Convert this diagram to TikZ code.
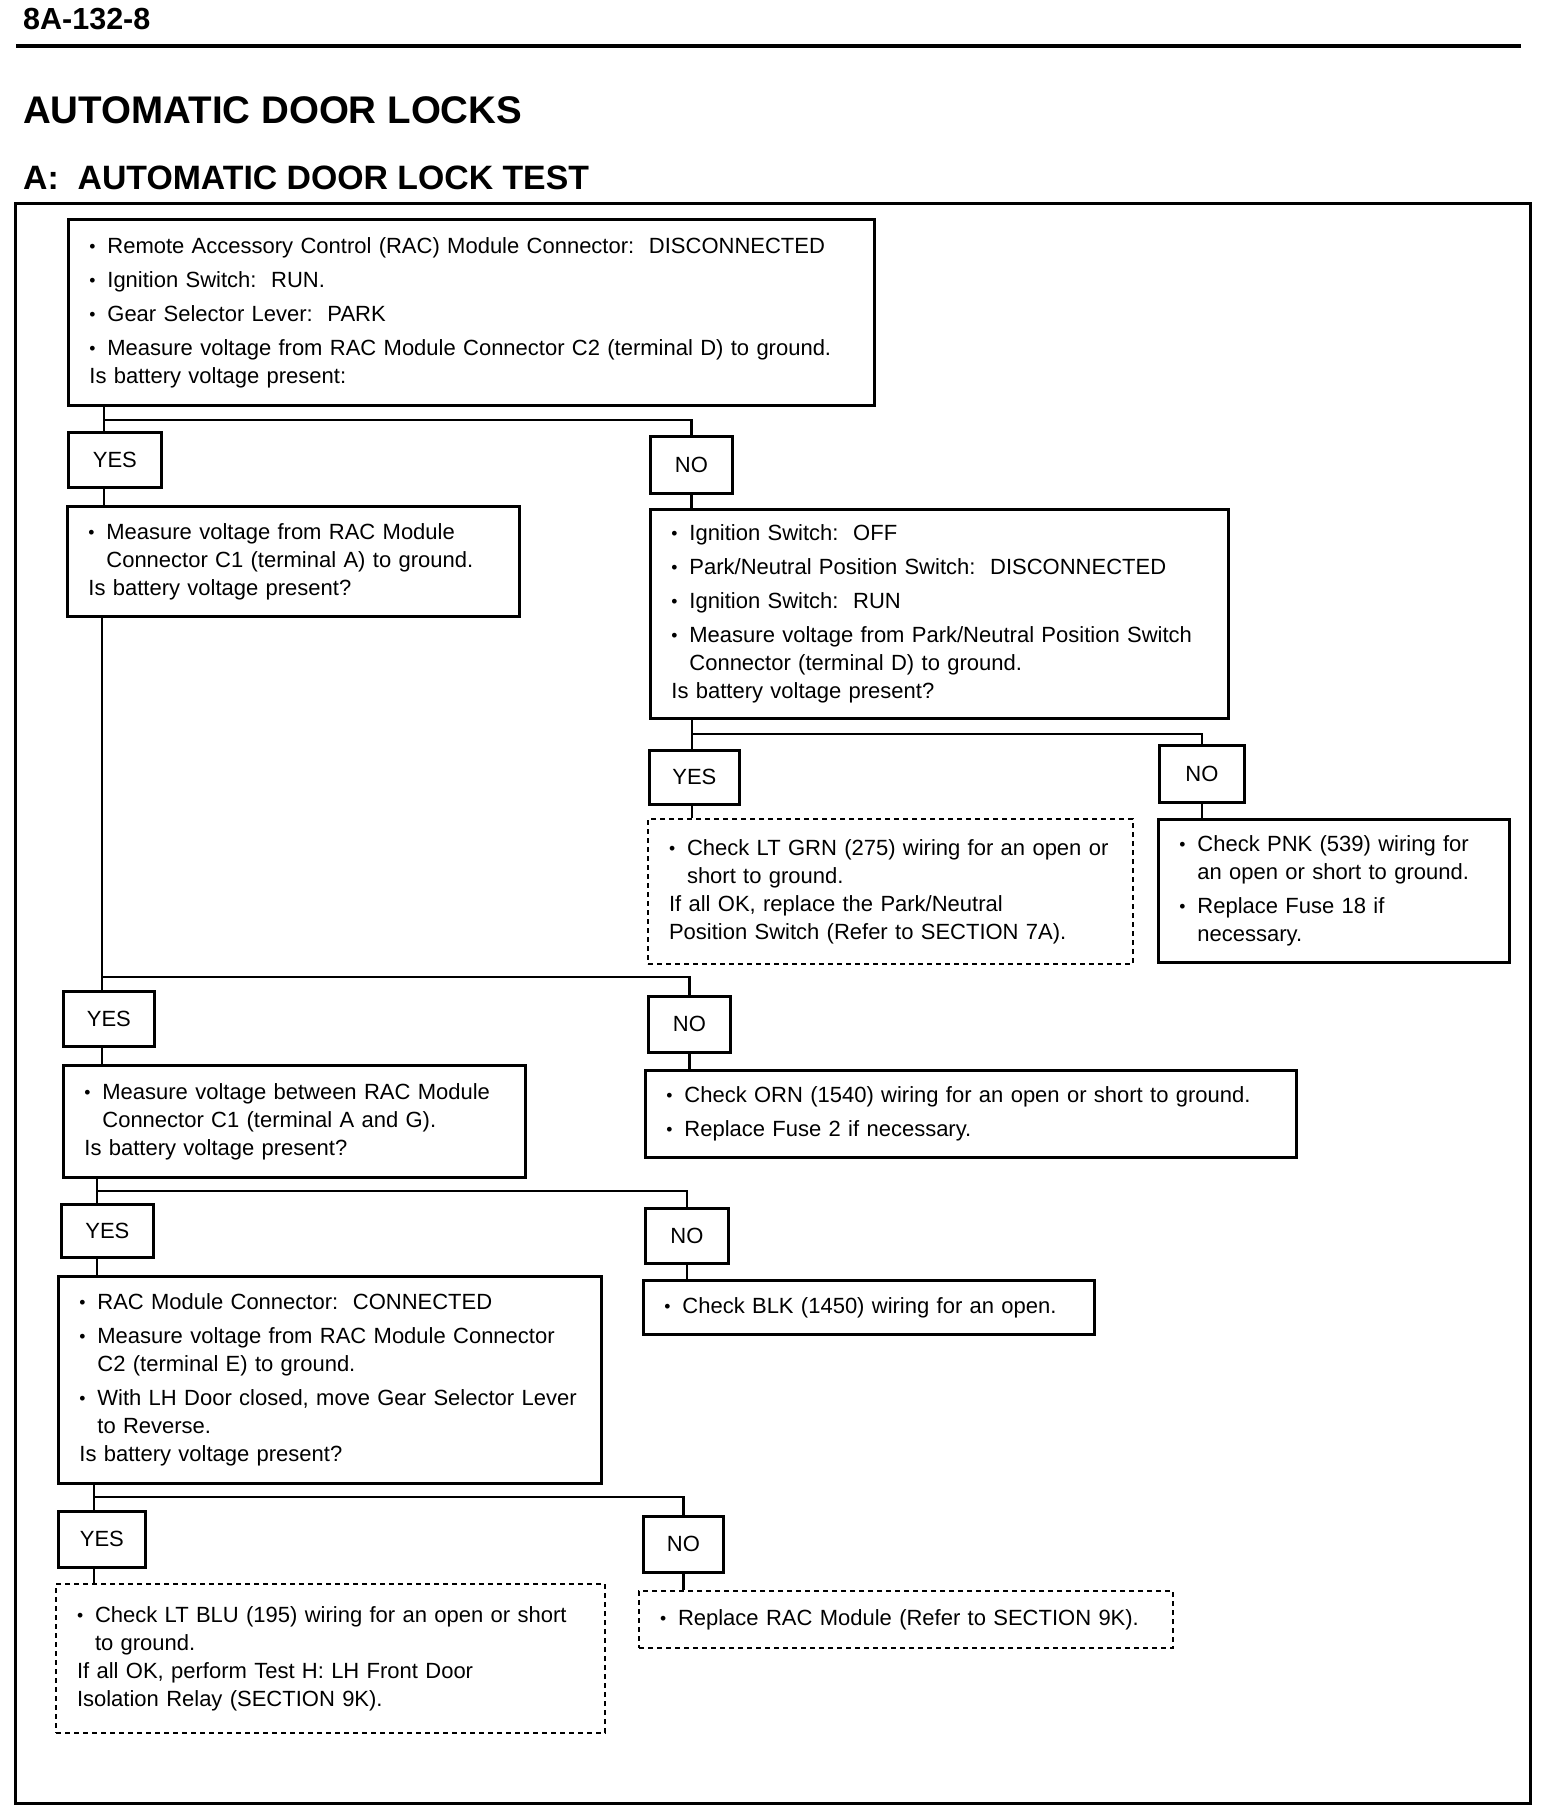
\documentclass[tikz,border=0pt]{standalone}
\usepackage{fontspec}
\setmainfont{Liberation Sans}
\newcommand\bodyfont{\fontsize{22}{28}\selectfont}
\newcommand\bu[1]{\makebox[18pt][l]{\raisebox{1pt}{\scalebox{0.8}{\textbullet}}}#1}
\newcommand\ct[1]{\hspace*{18pt}#1}
\begin{document}
\begin{tikzpicture}[x=1pt,y=-1pt,
  bx/.style={draw, line width=2.8pt, inner xsep=21pt, inner ysep=0pt, align=left, anchor=north west, font=\bodyfont},
  dbx/.style={bx, line width=2pt, dash pattern=on 5pt off 4pt},
  yn/.style={draw, line width=2.8pt, anchor=north west, inner sep=0pt, font=\bodyfont},
  conn/.style={line width=2.6pt}]
\useasboundingbox (0,0) rectangle (1552,1820);
\fill[white] (0,0) rectangle (1552,1820);

% header
\node[anchor=base west, inner sep=0pt, font=\fontsize{30.5}{34}\selectfont\bfseries] (hdr) at (23,29) {8A-132-8};
\draw[line width=3.5pt] (16,46) -- (1521,46);
\node[anchor=base west, inner sep=0pt, font=\fontsize{38.5}{42}\selectfont\bfseries] (t1) at (23,123) {AUTOMATIC DOOR LOCKS};
\node[anchor=base west, inner sep=0pt, font=\fontsize{33.8}{38}\selectfont\bfseries] (t2) at (23,189) {A:\ \ AUTOMATIC DOOR LOCK TEST};
\draw[line width=3pt] (15,203) rectangle (1530,1803);

% boxes
\node[bx, minimum width=806pt, minimum height=186pt, text width=764pt] (b1) at (67,218) {%
\bu{Remote Accessory Control (RAC) Module Connector:\ \ DISCONNECTED}\\[6pt]
\bu{Ignition Switch:\ \ RUN.}\\[6pt]
\bu{Gear Selector Lever:\ \ PARK}\\[6pt]
\bu{Measure voltage from RAC Module Connector C2 (terminal D) to ground.}\\
Is battery voltage present:};

\node[yn, minimum width=93pt, minimum height=55pt] (y1) at (67,431) {YES};
\node[yn, minimum width=82pt, minimum height=57pt] (n1) at (649,435) {NO};

\node[bx, minimum width=452pt, minimum height=110pt, text width=410pt] (b2) at (66,505) {%
\bu{Measure voltage from RAC Module}\\
\ct{Connector C1 (terminal A) to ground.}\\
Is battery voltage present?};

\node[bx, minimum width=578pt, minimum height=209pt, text width=536pt] (b3) at (649,508) {%
\bu{Ignition Switch:\ \ OFF}\\[6pt]
\bu{Park/Neutral Position Switch:\ \ DISCONNECTED}\\[6pt]
\bu{Ignition Switch:\ \ RUN}\\[6pt]
\bu{Measure voltage from Park/Neutral Position Switch}\\
\ct{Connector (terminal D) to ground.}\\
Is battery voltage present?};

\node[yn, minimum width=90pt, minimum height=54pt] (y3) at (648,749) {YES};
\node[yn, minimum width=85pt, minimum height=57pt] (n3) at (1158,744) {NO};

\node[dbx, minimum width=485pt, minimum height=145pt, text width=443pt] (b4) at (647,818) {%
\bu{Check LT GRN (275) wiring for an open or}\\
\ct{short to ground.}\\
If all OK, replace the Park/Neutral\\
Position Switch (Refer to SECTION 7A).};

\node[bx, minimum width=351pt, minimum height=143pt, text width=309pt] (b5) at (1157,818) {%
\bu{Check PNK (539) wiring for}\\
\ct{an open or short to ground.}\\[6pt]
\bu{Replace Fuse 18 if}\\
\ct{necessary.}};

\node[yn, minimum width=91pt, minimum height=55pt] (y4) at (62,990) {YES};
\node[yn, minimum width=82pt, minimum height=56pt] (n4) at (647,995) {NO};

\node[bx, minimum width=462pt, minimum height=112pt, text width=420pt] (b6) at (62,1064) {%
\bu{Measure voltage between RAC Module}\\
\ct{Connector C1 (terminal A and G).}\\
Is battery voltage present?};

\node[bx, minimum width=651pt, minimum height=87pt, text width=609pt] (b7) at (644,1069) {%
\bu{Check ORN (1540) wiring for an open or short to ground.}\\[6pt]
\bu{Replace Fuse 2 if necessary.}};

\node[yn, minimum width=92pt, minimum height=53pt] (y5) at (60,1203) {YES};
\node[yn, minimum width=83pt, minimum height=55pt] (n5) at (644,1207) {NO};

\node[bx, minimum width=543pt, minimum height=207pt, text width=501pt] (b8) at (57,1275) {%
\bu{RAC Module Connector:\ \ CONNECTED}\\[6pt]
\bu{Measure voltage from RAC Module Connector}\\
\ct{C2 (terminal E) to ground.}\\[6pt]
\bu{With LH Door closed, move Gear Selector Lever}\\
\ct{to Reverse.}\\
Is battery voltage present?};

\node[bx, minimum width=451pt, minimum height=54pt, text width=409pt] (b9) at (642,1279) {%
\bu{Check BLK (1450) wiring for an open.}};

\node[yn, minimum width=87pt, minimum height=56pt] (y6) at (57,1510) {YES};
\node[yn, minimum width=80pt, minimum height=56pt] (n6) at (642,1515) {NO};

\node[dbx, minimum width=549pt, minimum height=149pt, text width=507pt] (b10) at (55,1583) {%
\bu{Check LT BLU (195) wiring for an open or short}\\
\ct{to ground.}\\
If all OK, perform Test H: LH Front Door\\
Isolation Relay (SECTION 9K).};

\node[dbx, minimum width=534pt, minimum height=57pt, text width=492pt] (b11) at (638,1590) {%
\bu{Replace RAC Module (Refer to SECTION 9K).}};

% connectors
\coordinate (j1) at (104,420);
\draw[conn] (j1 |- b1.south) -- (j1) -| (n1.north);
\draw[conn] (j1) -- (j1 |- y1.north);
\draw[conn] (j1 |- y1.south) -- (j1 |- b2.north);
\draw[conn] (n1.south) -- (n1.south |- b3.north);

\coordinate (j2) at (692,734);
\draw[conn] (j2 |- b3.south) -- (j2) -| (n3.north);
\draw[conn] (j2) -- (j2 |- y3.north);
\draw[conn] (j2 |- y3.south) -- (j2 |- b4.north);
\draw[conn] (n3.south) -- (n3.south |- b5.north);

\coordinate (j3) at (102,977);
\draw[conn] (j3 |- b2.south) -- (j3) -| (n4.north);
\draw[conn] (j3) -- (j3 |- y4.north);
\draw[conn] (j3 |- y4.south) -- (j3 |- b6.north);
\draw[conn] (n4.south) -- (n4.south |- b7.north);

\coordinate (j4) at (97,1191);
\draw[conn] (j4 |- b6.south) -- (j4) -| (n5.north);
\draw[conn] (j4) -- (j4 |- y5.north);
\draw[conn] (j4 |- y5.south) -- (j4 |- b8.north);
\draw[conn] (n5.south) -- (n5.south |- b9.north);

\coordinate (j5) at (94,1497);
\draw[conn] (j5 |- b8.south) -- (j5) -| (n6.north);
\draw[conn] (j5) -- (j5 |- y6.north);
\draw[conn] (j5 |- y6.south) -- (j5 |- b10.north);
\draw[conn] (n6.south) -- (n6.south |- b11.north);
\end{tikzpicture}
\end{document}
